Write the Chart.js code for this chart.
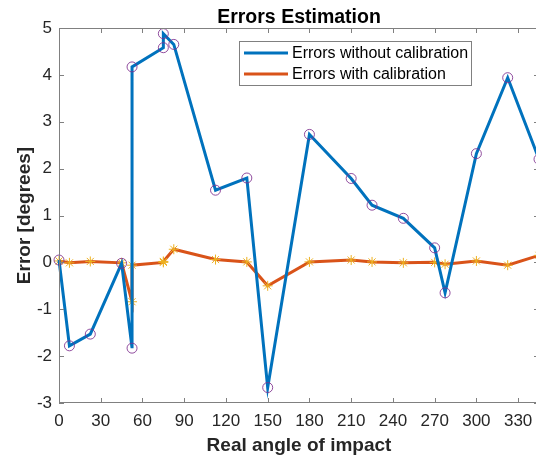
<!DOCTYPE html>
<html>
<head>
<meta charset="utf-8">
<title>Errors Estimation</title>
<style>
  html, body { margin: 0; padding: 0; background: #fff; overflow: hidden; }
  #wrap { position: absolute; left: 0; top: 0; width: 545px; height: 459px; }
</style>
</head>
<body>
<div id="wrap"><canvas id="errChart" width="545" height="459"></canvas></div>
<script src="https://cdn.jsdelivr.net/npm/chart.js"></script>
<script>
// impact angles (deg); repeated angles are measured twice
const angles = [0, 7.5, 22.5, 45, 52.5, 52.5, 75, 75, 82.5, 112.5, 135, 150, 180, 210, 225, 247.5, 270, 277.5, 300, 322.5, 345];
const errNoCal = [0.05, -1.78, -1.53, -0.02, -1.83, 4.17, 4.58, 4.88, 4.65, 1.54, 1.80, -2.67, 2.73, 1.79, 1.22, 0.94, 0.31, -0.65, 2.32, 3.94, 2.2];
const errCal = [0.03, -0.01, 0.02, -0.01, -0.84, -0.06, 0.0, 0.02, 0.28, 0.06, 0.01, -0.5, 0.01, 0.05, 0.01, -0.01, 0.0, -0.04, 0.03, -0.06, 0.15];
const xTicks = [0, 30, 60, 90, 120, 150, 180, 210, 240, 270, 300, 330];
const yTicks = [-3, -2, -1, 0, 1, 2, 3, 4, 5];
const seriesNames = ['Errors without calibration', 'Errors with calibration'];

const FONT = "'Liberation Sans', Arial, Helvetica, sans-serif";
const INK = '#262626';
const EDGE = '#808080';

const toPoints = ys => angles.map((a, i) => ({ x: a, y: ys[i] }));

// matlab-like box: frame, inward ticks, title and legend inside the axes
const axesBox = {
    id: 'axesBox',
    afterDatasetsDraw(chart) {
        const { ctx, chartArea: a, scales } = chart;
        ctx.save();
        ctx.strokeStyle = EDGE;
        ctx.lineWidth = 1;
        ctx.strokeRect(a.left + 0.5, a.top + 0.5, a.right - a.left - 1, a.bottom - a.top - 1);
        const tl = 5;
        ctx.beginPath();
        xTicks.forEach(v => {
            const px = Math.round(scales.x.getPixelForValue(v)) + 0.5;
            ctx.moveTo(px, a.bottom); ctx.lineTo(px, a.bottom - tl);
            ctx.moveTo(px, a.top); ctx.lineTo(px, a.top + tl);
        });
        yTicks.forEach(v => {
            const py = Math.round(scales.y.getPixelForValue(v)) + 0.5;
            ctx.moveTo(a.left, py); ctx.lineTo(a.left + tl, py);
            ctx.moveTo(a.right, py); ctx.lineTo(a.right - tl, py);
        });
        ctx.stroke();

        // title
        ctx.fillStyle = '#000';
        ctx.font = 'bold 19.5px ' + FONT;
        ctx.textAlign = 'center';
        ctx.textBaseline = 'alphabetic';
        ctx.fillText('Errors Estimation', (a.left + a.right) / 2, 23);

        // legend
        const lx = 239, ly = 41, lw = 232, lh = 44;
        ctx.fillStyle = '#fff';
        ctx.fillRect(lx, ly, lw, lh);
        ctx.strokeStyle = EDGE;
        ctx.strokeRect(lx + 0.5, ly + 0.5, lw, lh);
        ctx.font = '16px ' + FONT;
        ctx.textAlign = 'left';
        ctx.textBaseline = 'middle';
        chart.data.datasets.forEach((ds, i) => {
            const y = 53 + i * 21;
            ctx.strokeStyle = ds.borderColor;
            ctx.lineWidth = 3;
            ctx.beginPath();
            ctx.moveTo(244, y); ctx.lineTo(288, y);
            ctx.stroke();
            ctx.fillStyle = '#000';
            ctx.fillText(ds.label, 292, y + 1);
        });
        ctx.restore();
    }
};

new Chart(document.getElementById('errChart'), {
    type: 'line',
    data: {
        datasets: [{
            label: seriesNames[0],
            data: toPoints(errNoCal),
            borderColor: '#0072BD',
            borderWidth: 3,
            tension: 0,
            pointStyle: 'circle',
            pointRadius: 5,
            pointBorderWidth: 1,
            pointBorderColor: 'rgba(126,47,142,0.85)',
            pointBackgroundColor: 'rgba(0,0,0,0)',
            clip: false
        }, {
            label: seriesNames[1],
            data: toPoints(errCal),
            borderColor: '#D95319',
            borderWidth: 3,
            tension: 0,
            pointStyle: 'star',
            pointRadius: 5,
            pointBorderWidth: 1,
            pointBorderColor: '#EDB120',
            pointBackgroundColor: '#EDB120',
            clip: false
        }]
    },
    options: {
        responsive: false,
        animation: false,
        events: [],
        layout: { padding: { top: 28, right: 1, left: 0, bottom: 0 } },
        plugins: { legend: { display: false }, title: { display: false }, tooltip: { enabled: false } },
        scales: {
            x: {
                type: 'linear',
                min: 0,
                max: 345,
                afterBuildTicks: s => { s.ticks = xTicks.map(v => ({ value: v })); },
                afterFit: s => { s.height = 56; },
                grid: { display: false, drawTicks: false },
                border: { display: false },
                ticks: { color: INK, font: { family: FONT, size: 17 }, padding: 8, maxRotation: 0, autoSkip: false },
                title: {
                    display: true, text: 'Real angle of impact', color: INK,
                    font: { family: FONT, size: 19, weight: 'bold' }, padding: { top: 0, bottom: 2 }
                }
            },
            y: {
                type: 'linear',
                min: -3,
                max: 5,
                afterBuildTicks: s => { s.ticks = yTicks.map(v => ({ value: v })); },
                afterFit: s => { s.width = 59; },
                grid: { display: false, drawTicks: false },
                border: { display: false },
                ticks: { color: INK, font: { family: FONT, size: 17 }, padding: 7, autoSkip: false },
                title: {
                    display: true, text: 'Error [degrees]', color: INK,
                    font: { family: FONT, size: 19, weight: 'bold' }, padding: { top: 13, bottom: 0 }
                }
            }
        }
    },
    plugins: [axesBox]
});
</script>
</body>
</html>
